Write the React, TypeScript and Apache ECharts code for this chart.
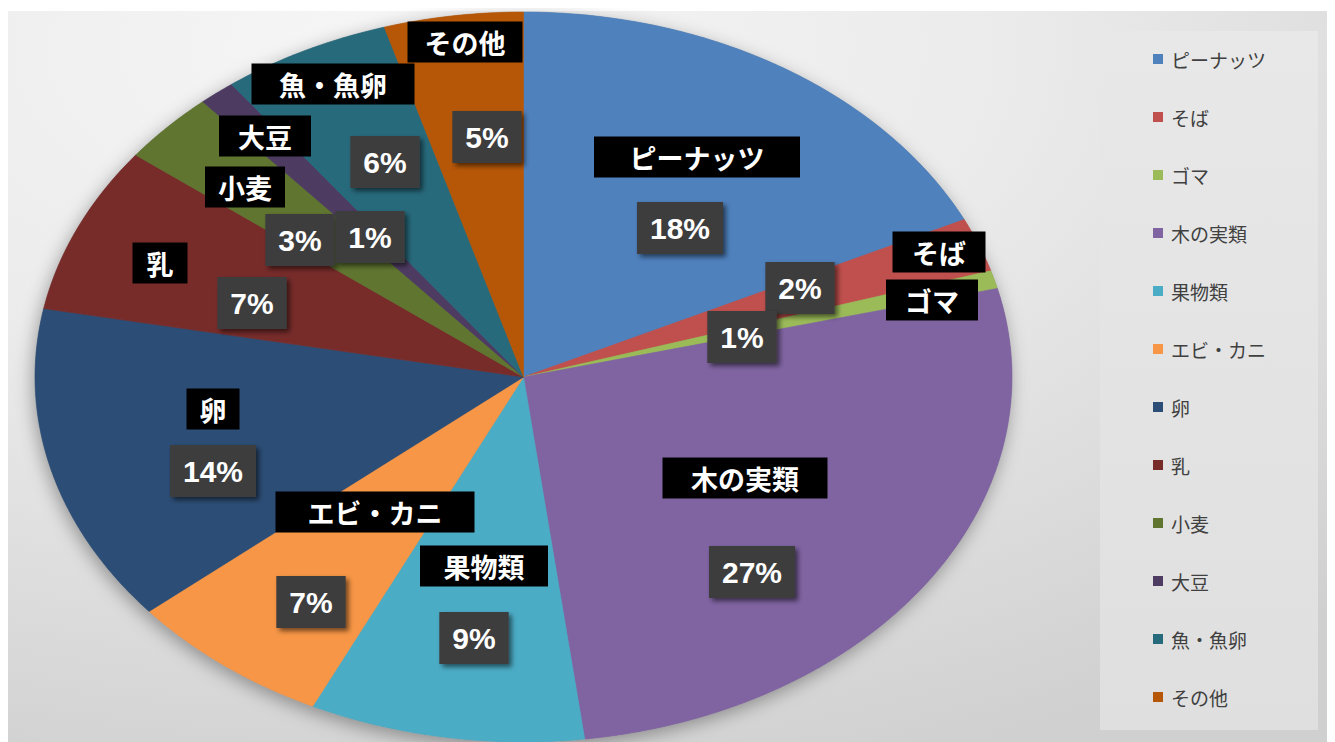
import React, { useEffect, useRef } from "react";
import * as echarts from "echarts";

// ---- data ----
const CATEGORIES = [
  "ピーナッツ",
  "そば",
  "ゴマ",
  "木の実類",
  "果物類",
  "エビ・カニ",
  "卵",
  "乳",
  "小麦",
  "大豆",
  "魚・魚卵",
  "その他",
];
const SHARES = [17.9, 2.4, 0.8, 26.9, 9.1, 6.8, 14.1, 7.4, 3.2, 1.2, 5.6, 4.6];
const COLORS = [
  "#4f81bd",
  "#c0504d",
  "#9bbb59",
  "#8064a2",
  "#4bacc6",
  "#f79646",
  "#2c4d75",
  "#772c2a",
  "#5f7530",
  "#4d3b62",
  "#276a7c",
  "#b65708",
];

// ---- label layout (page pixels, hand-placed like the original) ----
const NAME_CENTER: [number, number][] = [
  [697, 157], [939, 252], [932, 300], [745, 478], [484, 566], [375, 512],
  [213, 409], [160, 263], [245, 187], [265, 136], [333, 84], [465, 42],
];
const NAME_WIDTH = [206, 93, 92, 165, 128, 199, 53, 55, 80, 92, 163, 115];
const PCT_CENTER: [number, number][] = [
  [680, 228], [800, 288], [742, 337], [752, 572], [474, 638], [311, 602],
  [213, 471], [252, 303], [300, 240], [370, 237], [385, 162], [487, 137],
];

const OFF = 8;
const CX = 523.5 - OFF;
const CY = 377 - OFF;
const RX = 488.5;
const RY = 365;

const TOTAL = SHARES.reduce((a, b) => a + b, 0);

function makeRenderItem(i: number) {
  return (params: any, api: any) => {
    const value = api.value(0) as number;
    let before = 0;
    for (let k = 0; k < i; k++) before += SHARES[k];
    const a0 = 90 - (360 * before) / TOTAL;
    const a1 = a0 - (360 * value) / TOTAL;
    const steps = Math.max(2, Math.ceil((a0 - a1) / 0.5));
    const points: number[][] = [[CX, CY]];
    for (let s = 0; s <= steps; s++) {
      const a = ((a0 + ((a1 - a0) * s) / steps) * Math.PI) / 180;
      points.push([CX + RX * Math.cos(a), CY - RY * Math.sin(a)]);
    }
    const pct = Math.round((value / TOTAL) * 100) + "%";
    return {
      type: "group",
      children: [
        {
          type: "polygon",
          z2: 0,
          shape: { points },
          style: { fill: COLORS[i], stroke: COLORS[i], lineWidth: 0.6 },
        },
        {
          type: "text",
          z2: 20,
          x: NAME_CENTER[i][0] - OFF,
          y: NAME_CENTER[i][1] - OFF,
          style: {
            legacy: false,
            text: CATEGORIES[i],
            fill: "#ffffff",
            fontSize: 27,
            fontWeight: "bold",
            fontFamily: "Noto Sans CJK JP",
            lineHeight: 27,
            align: "center",
            verticalAlign: "middle",
            width: NAME_WIDTH[i],
            padding: [7, 0],
            backgroundColor: "#000000",
          },
        },
        {
          type: "text",
          z2: 20,
          x: PCT_CENTER[i][0] - OFF,
          y: PCT_CENTER[i][1] - OFF,
          style: {
            legacy: false,
            text: pct,
            fill: "#ffffff",
            fontSize: 30,
            fontWeight: "bold",
            fontFamily: "Liberation Sans",
            lineHeight: 30,
            align: "center",
            verticalAlign: "middle",
            padding: [11, 13],
            backgroundColor: "#3d3d3d",
            shadowColor: "rgba(0,0,0,0.55)",
            shadowBlur: 5,
            shadowOffsetX: 3,
            shadowOffsetY: 3,
          },
        },
      ],
    };
  };
}

export default function App() {
  const ref = useRef<HTMLDivElement>(null);
  useEffect(() => {
    document.documentElement.style.overflow = "hidden";
    document.body.style.overflow = "hidden";
    if (!ref.current) return;
    const chart = echarts.init(ref.current, null, { renderer: "svg" });
    chart.setOption({
      animation: false,
      graphic: [
        {
          type: "rect",
          z: 0,
          shape: { x: 0, y: 3, width: 1327, height: 731 },
          style: {
            fill: new echarts.graphic.RadialGradient(0.28, 0.05, 1.05, [
              { offset: 0, color: "#f6f6f6" },
              { offset: 0.45, color: "#ebebeb" },
              { offset: 1, color: "#d0d0d0" },
            ]),
          },
        },
        {
          type: "rect",
          z: 0,
          shape: { x: 1100 - OFF, y: 31 - OFF, width: 218, height: 699 },
          style: {
            fill: new echarts.graphic.LinearGradient(0, 0, 0, 1, [
              { offset: 0, color: "#e8e8e8" },
              { offset: 1, color: "#dfdfdf" },
            ]),
          },
        },
        {
          type: "ellipse",
          z: 1,
          shape: { cx: CX, cy: CY, rx: RX, ry: RY },
          style: {
            fill: "#8a8a8a",
            shadowColor: "rgba(0,0,0,0.35)",
            shadowBlur: 18,
            shadowOffsetX: -2,
            shadowOffsetY: 5,
          },
        },
      ],
      legend: {
        orient: "vertical",
        left: 1148 - OFF,
        top: 44 - OFF,
        icon: "rect",
        itemWidth: 10,
        itemHeight: 10,
        itemGap: 38,
        data: CATEGORIES,
        selectedMode: false,
        textStyle: {
          fontSize: 19,
          color: "#404040",
          fontFamily: "Noto Sans CJK JP",
          lineHeight: 20,
          padding: [0, 0, 0, 3],
        },
      },
      series: CATEGORIES.map((name, i) => ({
        type: "custom",
        name,
        coordinateSystem: "none",
        silent: true,
        itemStyle: { color: COLORS[i] },
        data: [[SHARES[i]]],
        renderItem: makeRenderItem(i),
      })),
    });
    return () => chart.dispose();
  }, []);
  return <div ref={ref} style={{ width: 1327, height: 734 }} />;
}
